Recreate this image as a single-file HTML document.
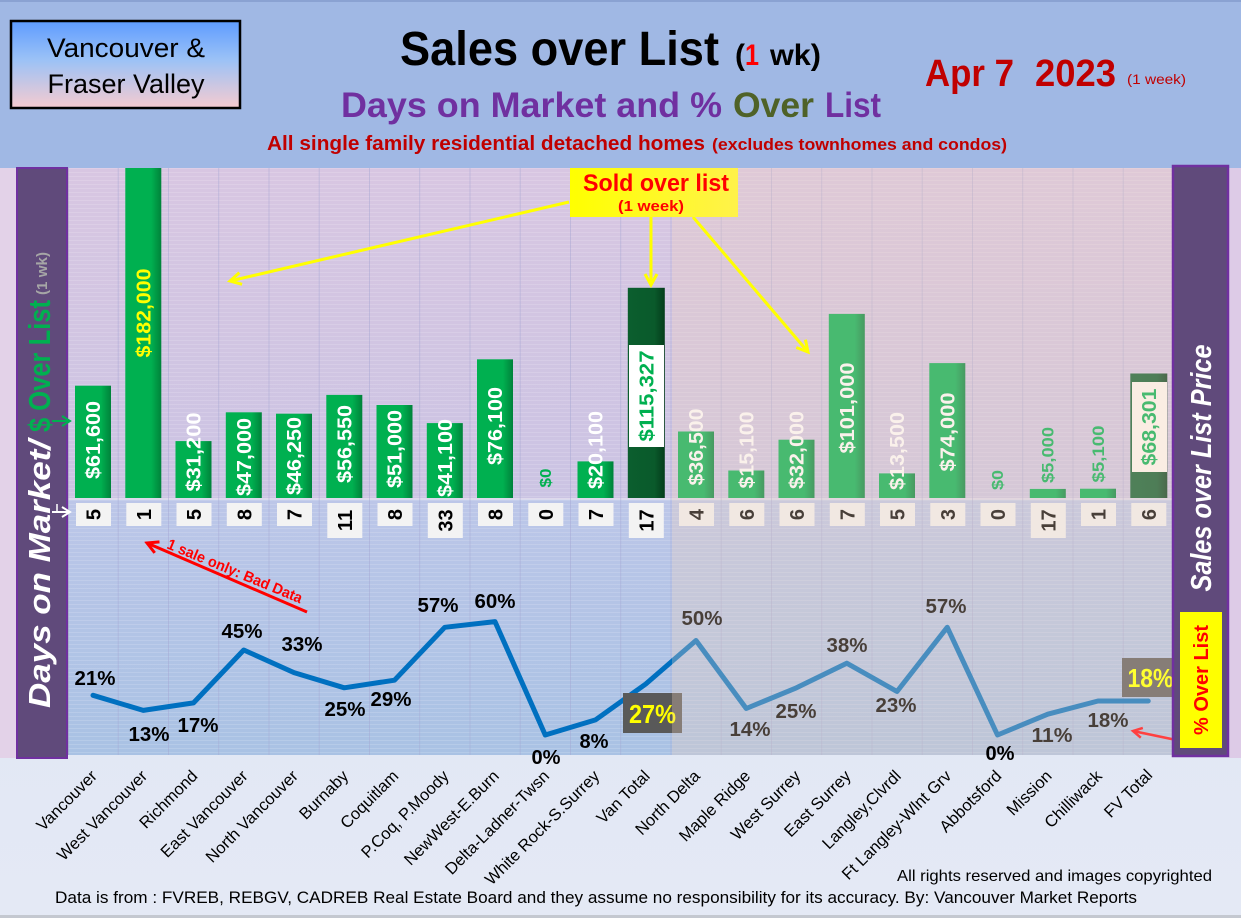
<!DOCTYPE html>
<html><head><meta charset="utf-8"><style>
html,body{margin:0;padding:0;background:#dfe6f4;}
svg{display:block;}
text{font-family:"Liberation Sans",sans-serif;}
</style></head><body>
<svg width="1241" height="918" viewBox="0 0 1241 918" xmlns="http://www.w3.org/2000/svg">
<defs>
<linearGradient id="gUp" x1="0" y1="0" x2="0" y2="1"><stop offset="0" stop-color="#d8c6e2"/><stop offset="1" stop-color="#cbc4e3"/></linearGradient>
<linearGradient id="gLow" x1="0" y1="0" x2="0" y2="1"><stop offset="0" stop-color="#bcc6e8"/><stop offset="1" stop-color="#a9c2e4"/></linearGradient>
<linearGradient id="gBar" x1="0" y1="0" x2="1" y2="0"><stop offset="0" stop-color="#00b050"/><stop offset="0.72" stop-color="#00b050"/><stop offset="1" stop-color="#00823a"/></linearGradient>
<linearGradient id="gDark" x1="0" y1="0" x2="1" y2="0"><stop offset="0" stop-color="#0b5e2e"/><stop offset="0.72" stop-color="#0a5a2b"/><stop offset="1" stop-color="#043c1b"/></linearGradient>
<linearGradient id="gLogo" x1="0" y1="0" x2="0" y2="1"><stop offset="0" stop-color="#5e9cff"/><stop offset="0.45" stop-color="#9cc2f6"/><stop offset="1" stop-color="#f6cbd0"/></linearGradient>
<linearGradient id="gSold" x1="0" y1="0" x2="1" y2="0"><stop offset="0" stop-color="#ffff00"/><stop offset="1" stop-color="#fff24a"/></linearGradient>
<linearGradient id="gFoot" x1="0" y1="0" x2="0" y2="1"><stop offset="0" stop-color="#dbe3f3"/><stop offset="1" stop-color="#e4e9f5"/></linearGradient>
<pattern id="stripes" width="4" height="4" patternUnits="userSpaceOnUse"><rect x="0" y="0" width="4" height="1" fill="#ffffff" opacity="0.14"/></pattern>
<marker id="ay" markerWidth="16" markerHeight="16" refX="13" refY="8" orient="auto" markerUnits="userSpaceOnUse"><path d="M2,2 L13,8 L2,14" fill="none" stroke="#ffff00" stroke-width="3"/></marker>
<marker id="ar" markerWidth="16" markerHeight="16" refX="13" refY="8" orient="auto" markerUnits="userSpaceOnUse"><path d="M2,2 L13,8 L2,14" fill="none" stroke="#ff0000" stroke-width="3"/></marker>
<marker id="ar2" markerWidth="14" markerHeight="14" refX="11" refY="7" orient="auto" markerUnits="userSpaceOnUse"><path d="M2,2 L11,7 L2,12" fill="none" stroke="#ff4040" stroke-width="2.5"/></marker>
<marker id="ag" markerWidth="12" markerHeight="12" refX="10" refY="6" orient="auto" markerUnits="userSpaceOnUse"><path d="M2,1 L10,6 L2,11" fill="none" stroke="#00b050" stroke-width="2"/></marker>
<marker id="aw" markerWidth="12" markerHeight="12" refX="10" refY="6" orient="auto" markerUnits="userSpaceOnUse"><path d="M2,1 L10,6 L2,11" fill="none" stroke="#ffffff" stroke-width="2"/></marker>
</defs>

<!-- backgrounds -->
<rect x="0" y="0" width="1241" height="918" fill="url(#gFoot)"/>
<rect x="0" y="0" width="1241" height="168" fill="#a0b8e4"/>
<rect x="0" y="0" width="1241" height="2" fill="#8aa2d2"/>
<rect x="0" y="168" width="17" height="590" fill="#e3d2e8"/>
<rect x="1229" y="168" width="12" height="590" fill="#ddcbe7"/>
<rect x="67" y="168" width="1106" height="331" fill="url(#gUp)"/>
<rect x="67" y="499" width="1106" height="256" fill="url(#gLow)"/>
<rect x="67" y="168" width="1106" height="587" fill="url(#stripes)"/>
<line x1="67" y1="499" x2="1172" y2="499" stroke="#e4e0f0" stroke-width="1.5"/>
<g stroke="#a4a6d2" stroke-width="1" opacity="0.45">
<line x1="118.2" y1="168" x2="118.2" y2="755"/><line x1="168.5" y1="168" x2="168.5" y2="755"/><line x1="218.7" y1="168" x2="218.7" y2="755"/><line x1="269" y1="168" x2="269" y2="755"/><line x1="319.2" y1="168" x2="319.2" y2="755"/><line x1="369.5" y1="168" x2="369.5" y2="755"/><line x1="419.7" y1="168" x2="419.7" y2="755"/><line x1="470" y1="168" x2="470" y2="755"/><line x1="520.2" y1="168" x2="520.2" y2="755"/><line x1="570.5" y1="168" x2="570.5" y2="755"/><line x1="620.7" y1="168" x2="620.7" y2="755"/><line x1="671" y1="168" x2="671" y2="755"/><line x1="721.2" y1="168" x2="721.2" y2="755"/><line x1="771.5" y1="168" x2="771.5" y2="755"/><line x1="821.7" y1="168" x2="821.7" y2="755"/><line x1="872" y1="168" x2="872" y2="755"/><line x1="922.2" y1="168" x2="922.2" y2="755"/><line x1="972.5" y1="168" x2="972.5" y2="755"/><line x1="1022.7" y1="168" x2="1022.7" y2="755"/><line x1="1073" y1="168" x2="1073" y2="755"/><line x1="1123.2" y1="168" x2="1123.2" y2="755"/>
</g>
<line x1="68" y1="168" x2="68" y2="755" stroke="#9a9ab4" stroke-width="1"/>

<!-- bars -->
<g>
<rect x="75" y="385.7" width="36" height="112.3" fill="url(#gBar)"/>
<rect x="125.3" y="168" width="36" height="330" fill="url(#gBar)"/>
<rect x="175.5" y="441.1" width="36" height="56.9" fill="url(#gBar)"/>
<rect x="225.8" y="412.3" width="36" height="85.7" fill="url(#gBar)"/>
<rect x="276" y="413.7" width="36" height="84.3" fill="url(#gBar)"/>
<rect x="326.3" y="394.9" width="36" height="103.1" fill="url(#gBar)"/>
<rect x="376.5" y="405" width="36" height="93" fill="url(#gBar)"/>
<rect x="426.8" y="423.1" width="36" height="74.9" fill="url(#gBar)"/>
<rect x="477" y="359.3" width="36" height="138.7" fill="url(#gBar)"/>
<rect x="577.5" y="461.4" width="36" height="36.6" fill="url(#gBar)"/>
<rect x="627.8" y="287.8" width="37" height="210.2" fill="url(#gDark)"/>
<rect x="678" y="431.5" width="36" height="66.5" fill="url(#gBar)"/>
<rect x="728.3" y="470.5" width="36" height="27.5" fill="url(#gBar)"/>
<rect x="778.5" y="439.7" width="36" height="58.3" fill="url(#gBar)"/>
<rect x="828.8" y="313.9" width="36" height="184.1" fill="url(#gBar)"/>
<rect x="879" y="473.4" width="36" height="24.6" fill="url(#gBar)"/>
<rect x="929.3" y="363.1" width="36" height="134.9" fill="url(#gBar)"/>
<rect x="1029.8" y="488.9" width="36" height="9.1" fill="url(#gBar)"/>
<rect x="1080" y="488.7" width="36" height="9.3" fill="url(#gBar)"/>
<rect x="1130.3" y="373.5" width="37" height="124.5" fill="url(#gDark)"/>
</g>
<rect x="629" y="345" width="35" height="102" fill="#ffffff"/>
<rect x="1132" y="382" width="35" height="90" fill="#fffaf4"/>

<!-- bar labels -->
<g font-weight="bold" font-size="20" fill="#ffffff" text-anchor="middle">
<text transform="translate(100,440) rotate(-90)" textLength="78" lengthAdjust="spacingAndGlyphs">$61,600</text>
<text transform="translate(150.3,313) rotate(-90)" textLength="89" lengthAdjust="spacingAndGlyphs" fill="#ffff00">$182,000</text>
<text transform="translate(200.5,452) rotate(-90)" textLength="79" lengthAdjust="spacingAndGlyphs">$31,200</text>
<text transform="translate(250.8,457) rotate(-90)" textLength="78" lengthAdjust="spacingAndGlyphs">$47,000</text>
<text transform="translate(301,456) rotate(-90)" textLength="78" lengthAdjust="spacingAndGlyphs">$46,250</text>
<text transform="translate(351.3,444) rotate(-90)" textLength="78" lengthAdjust="spacingAndGlyphs">$56,550</text>
<text transform="translate(401.5,449) rotate(-90)" textLength="78" lengthAdjust="spacingAndGlyphs">$51,000</text>
<text transform="translate(451.8,458) rotate(-90)" textLength="78" lengthAdjust="spacingAndGlyphs">$41,100</text>
<text transform="translate(502,426) rotate(-90)" textLength="78" lengthAdjust="spacingAndGlyphs">$76,100</text>
<text transform="translate(551,478) rotate(-90)" textLength="19" lengthAdjust="spacingAndGlyphs" font-size="16" fill="#00b050">$0</text>
<text transform="translate(602.5,450) rotate(-90)" textLength="78" lengthAdjust="spacingAndGlyphs">$20,100</text>
<text transform="translate(653.5,396) rotate(-90)" textLength="91" lengthAdjust="spacingAndGlyphs" fill="#00b050">$115,327</text>
<text transform="translate(703,447) rotate(-90)" textLength="77" lengthAdjust="spacingAndGlyphs">$36,500</text>
<text transform="translate(753.3,450) rotate(-90)" textLength="77" lengthAdjust="spacingAndGlyphs">$15,100</text>
<text transform="translate(803.5,450) rotate(-90)" textLength="78" lengthAdjust="spacingAndGlyphs">$32,000</text>
<text transform="translate(853.8,408) rotate(-90)" textLength="91" lengthAdjust="spacingAndGlyphs">$101,000</text>
<text transform="translate(904,451) rotate(-90)" textLength="78" lengthAdjust="spacingAndGlyphs">$13,500</text>
<text transform="translate(954.3,432) rotate(-90)" textLength="79" lengthAdjust="spacingAndGlyphs">$74,000</text>
<text transform="translate(1003,480) rotate(-90)" textLength="20" lengthAdjust="spacingAndGlyphs" font-size="16" fill="#00b050">$0</text>
<text transform="translate(1053.5,455) rotate(-90)" textLength="56" lengthAdjust="spacingAndGlyphs" font-size="17" fill="#00b050">$5,000</text>
<text transform="translate(1103.8,454) rotate(-90)" textLength="57" lengthAdjust="spacingAndGlyphs" font-size="17" fill="#00b050">$5,100</text>
<text transform="translate(1155.8,427) rotate(-90)" textLength="77" lengthAdjust="spacingAndGlyphs" fill="#00b050">$68,301</text>
</g>

<!-- days on market boxes -->
<g fill="#f3f3f3">
<rect x="76" y="503" width="35" height="23"/><rect x="126.3" y="503" width="35" height="23"/><rect x="176.5" y="503" width="35" height="23"/><rect x="226.8" y="503" width="35" height="23"/><rect x="277" y="503" width="35" height="23"/><rect x="327.3" y="503" width="35" height="35"/><rect x="377.5" y="503" width="35" height="23"/><rect x="427.8" y="503" width="35" height="35"/><rect x="478" y="503" width="35" height="23"/><rect x="528.3" y="503" width="35" height="23"/><rect x="578.5" y="503" width="35" height="23"/><rect x="628.8" y="503" width="35" height="35"/><rect x="679" y="503" width="35" height="23"/><rect x="729.3" y="503" width="35" height="23"/><rect x="779.5" y="503" width="35" height="23"/><rect x="829.8" y="503" width="35" height="23"/><rect x="880" y="503" width="35" height="23"/><rect x="930.3" y="503" width="35" height="23"/><rect x="980.5" y="503" width="35" height="23"/><rect x="1030.8" y="503" width="35" height="35"/><rect x="1081" y="503" width="35" height="23"/><rect x="1131.3" y="503" width="35" height="23"/>
</g>
<g font-weight="bold" font-size="20" fill="#000" text-anchor="middle">
<text transform="translate(100.5,514.5) rotate(-90)">5</text>
<text transform="translate(150.8,514.5) rotate(-90)">1</text>
<text transform="translate(201,514.5) rotate(-90)">5</text>
<text transform="translate(251.3,514.5) rotate(-90)">8</text>
<text transform="translate(301.5,514.5) rotate(-90)">7</text>
<text transform="translate(351.8,520.5) rotate(-90)">11</text>
<text transform="translate(402,514.5) rotate(-90)">8</text>
<text transform="translate(452.3,520.5) rotate(-90)">33</text>
<text transform="translate(502.5,514.5) rotate(-90)">8</text>
<text transform="translate(552.8,514.5) rotate(-90)">0</text>
<text transform="translate(603,514.5) rotate(-90)">7</text>
<text transform="translate(653.3,520.5) rotate(-90)">17</text>
<text transform="translate(703.5,514.5) rotate(-90)">4</text>
<text transform="translate(753.8,514.5) rotate(-90)">6</text>
<text transform="translate(804,514.5) rotate(-90)">6</text>
<text transform="translate(854.3,514.5) rotate(-90)">7</text>
<text transform="translate(904.5,514.5) rotate(-90)">5</text>
<text transform="translate(954.8,514.5) rotate(-90)">3</text>
<text transform="translate(1005,514.5) rotate(-90)">0</text>
<text transform="translate(1055.3,520.5) rotate(-90)">17</text>
<text transform="translate(1105.5,514.5) rotate(-90)">1</text>
<text transform="translate(1155.8,514.5) rotate(-90)">6</text>
</g>

<!-- % over list line -->
<polyline fill="none" stroke="#0070c0" stroke-width="5" stroke-linejoin="round" stroke-linecap="round"
points="93,695.3 143.25,710.4 193.5,702.9 243.75,650 294,672.6 344.25,687.8 394.5,680.2 444.75,627.3 495,621.6 545.25,735 595.5,719.9 645.75,684 696,640.5 746.25,708.5 796.5,687.8 846.75,663.2 897,691.5 947.25,627.3 997.5,735 1047.75,714.2 1098,701 1148.25,701"/>

<rect x="623" y="693" width="59" height="40" fill="#595959"/>
<text x="652.5" y="723" font-size="26" font-weight="bold" fill="#ffff00" text-anchor="middle" textLength="47" lengthAdjust="spacingAndGlyphs">27%</text>
<rect x="1122" y="658" width="51" height="39" fill="#595959"/>

<g font-weight="bold" font-size="20" fill="#000" text-anchor="middle">
<text x="95" y="685" textLength="41" lengthAdjust="spacingAndGlyphs">21%</text>
<text x="149" y="741" textLength="41" lengthAdjust="spacingAndGlyphs">13%</text>
<text x="198" y="732" textLength="41" lengthAdjust="spacingAndGlyphs">17%</text>
<text x="242" y="638" textLength="41" lengthAdjust="spacingAndGlyphs">45%</text>
<text x="302" y="651" textLength="41" lengthAdjust="spacingAndGlyphs">33%</text>
<text x="345" y="716" textLength="41" lengthAdjust="spacingAndGlyphs">25%</text>
<text x="391" y="706" textLength="41" lengthAdjust="spacingAndGlyphs">29%</text>
<text x="438" y="612" textLength="41" lengthAdjust="spacingAndGlyphs">57%</text>
<text x="495" y="608" textLength="41" lengthAdjust="spacingAndGlyphs">60%</text>
<text x="546" y="764" textLength="29" lengthAdjust="spacingAndGlyphs">0%</text>
<text x="594" y="748" textLength="29" lengthAdjust="spacingAndGlyphs">8%</text>
<text x="702" y="625" textLength="41" lengthAdjust="spacingAndGlyphs">50%</text>
<text x="750" y="736" textLength="41" lengthAdjust="spacingAndGlyphs">14%</text>
<text x="796" y="718" textLength="41" lengthAdjust="spacingAndGlyphs">25%</text>
<text x="847" y="652" textLength="41" lengthAdjust="spacingAndGlyphs">38%</text>
<text x="896" y="712" textLength="41" lengthAdjust="spacingAndGlyphs">23%</text>
<text x="946" y="613" textLength="41" lengthAdjust="spacingAndGlyphs">57%</text>
<text x="1052" y="742" textLength="41" lengthAdjust="spacingAndGlyphs">11%</text>
<text x="1108" y="727" textLength="41" lengthAdjust="spacingAndGlyphs">18%</text>
</g>

<!-- overlay on Fraser Valley half -->
<rect x="672" y="168" width="500" height="587" fill="rgb(240,210,190)" opacity="0.3"/>

<text x="1150.5" y="687" font-size="26" font-weight="bold" fill="#ffff30" text-anchor="middle" textLength="46" lengthAdjust="spacingAndGlyphs">18%</text>
<text x="1000" y="760" font-size="20" font-weight="bold" fill="#000" text-anchor="middle" textLength="29" lengthAdjust="spacingAndGlyphs">0%</text>

<!-- annotations -->
<line x1="569" y1="202" x2="230" y2="281" stroke="#ffff00" stroke-width="3" marker-end="url(#ay)"/>
<line x1="651" y1="217" x2="651" y2="285" stroke="#ffff00" stroke-width="3" marker-end="url(#ay)"/>
<line x1="693" y1="217" x2="808" y2="352" stroke="#ffff00" stroke-width="3" marker-end="url(#ay)"/>
<rect x="570" y="168" width="168" height="49" fill="url(#gSold)"/>
<text x="583" y="191" font-size="24" font-weight="bold" fill="#ff0000" textLength="146" lengthAdjust="spacingAndGlyphs">Sold over list</text>
<text x="618" y="211" font-size="15" font-weight="bold" fill="#ff0000" textLength="66" lengthAdjust="spacingAndGlyphs">(1 week)</text>

<line x1="307" y1="612" x2="147" y2="543" stroke="#ff0000" stroke-width="3" marker-end="url(#ar)"/>
<text transform="translate(166,548) rotate(22.5)" font-size="15" font-weight="bold" fill="#ff0000" textLength="145" lengthAdjust="spacingAndGlyphs">1 sale only: Bad Data</text>
<line x1="1181" y1="741" x2="1133" y2="731" stroke="#ff4040" stroke-width="2.5" marker-end="url(#ar2)"/>

<!-- side panels -->
<rect x="17" y="168" width="50" height="590" fill="#604a7b" stroke="#7030a0" stroke-width="2"/>
<text transform="translate(50,708) rotate(-90)" font-size="31" font-weight="bold" font-style="italic" fill="#ffffff" textLength="268" lengthAdjust="spacingAndGlyphs">Days on Market/</text>
<text transform="translate(50,432) rotate(-90)" font-size="31" font-weight="bold" fill="#00b050" textLength="132" lengthAdjust="spacingAndGlyphs">$ Over List</text>
<text transform="translate(47,295) rotate(-90)" font-size="15" font-weight="bold" fill="#a6a6a6" textLength="43" lengthAdjust="spacingAndGlyphs">(1 wk)</text>
<line x1="52" y1="421" x2="70" y2="421" stroke="#00b050" stroke-width="2" marker-end="url(#ag)"/>
<line x1="52" y1="512" x2="70" y2="512" stroke="#ffffff" stroke-width="2" marker-end="url(#aw)"/>
<line x1="57" y1="504" x2="57" y2="512" stroke="#ffffff" stroke-width="1.5"/>

<rect x="1173" y="166" width="55" height="590" fill="#604a7b" stroke="#7030a0" stroke-width="2.5"/>
<text transform="translate(1211,468) rotate(-90)" font-size="29" font-weight="bold" font-style="italic" fill="#ffffff" text-anchor="middle" textLength="247" lengthAdjust="spacingAndGlyphs">Sales over List Price</text>
<rect x="1180" y="612" width="42" height="136" fill="#ffff00"/>
<text transform="translate(1208,680) rotate(-90)" font-size="20" font-weight="bold" fill="#ff0000" text-anchor="middle" textLength="110" lengthAdjust="spacingAndGlyphs">% Over List</text>

<!-- x axis labels -->
<g font-size="16.5" fill="#000" text-anchor="end">
<text transform="translate(98,777) rotate(-45)">Vancouver</text>
<text transform="translate(148.3,777) rotate(-45)">West Vancouver</text>
<text transform="translate(198.5,777) rotate(-45)">Richmond</text>
<text transform="translate(248.8,777) rotate(-45)">East Vancouver</text>
<text transform="translate(299,777) rotate(-45)">North Vancouver</text>
<text transform="translate(349.3,777) rotate(-45)">Burnaby</text>
<text transform="translate(399.5,777) rotate(-45)">Coquitlam</text>
<text transform="translate(449.8,777) rotate(-45)">P.Coq, P.Moody</text>
<text transform="translate(500,777) rotate(-45)">NewWest-E.Burn</text>
<text transform="translate(550.3,777) rotate(-45)">Delta-Ladner-Twsn</text>
<text transform="translate(600.5,777) rotate(-45)">White Rock-S.Surrey</text>
<text transform="translate(650.8,777) rotate(-45)">Van Total</text>
<text transform="translate(701,777) rotate(-45)">North Delta</text>
<text transform="translate(751.3,777) rotate(-45)">Maple Ridge</text>
<text transform="translate(801.5,777) rotate(-45)">West Surrey</text>
<text transform="translate(851.8,777) rotate(-45)">East Surrey</text>
<text transform="translate(902,777) rotate(-45)">Langley,Clvrdl</text>
<text transform="translate(952.3,777) rotate(-45)">Ft Langley-Wlnt Grv</text>
<text transform="translate(1002.5,777) rotate(-45)">Abbotsford</text>
<text transform="translate(1052.8,777) rotate(-45)">Mission</text>
<text transform="translate(1103,777) rotate(-45)">Chilliwack</text>
<text transform="translate(1153.3,776) rotate(-45)">FV Total</text>
</g>

<!-- footer -->
<text x="897" y="881" font-size="16" fill="#000" textLength="315" lengthAdjust="spacingAndGlyphs">All rights reserved and  images copyrighted</text>
<text x="55" y="903" font-size="16.5" fill="#000" textLength="1082" lengthAdjust="spacingAndGlyphs">Data is from : FVREB, REBGV, CADREB Real Estate Board and they assume no responsibility for its accuracy. By: Vancouver Market Reports</text>
<rect x="0" y="915" width="1241" height="3" fill="#c4c8d0"/>

<!-- header -->
<rect x="11" y="21" width="229" height="87" fill="url(#gLogo)" stroke="#000" stroke-width="2.5"/>
<text x="126" y="57" font-size="27" fill="#000" text-anchor="middle" textLength="158" lengthAdjust="spacingAndGlyphs">Vancouver &amp;</text>
<text x="126" y="93" font-size="27" fill="#000" text-anchor="middle" textLength="157" lengthAdjust="spacingAndGlyphs">Fraser Valley</text>

<text x="400" y="65" font-size="48" font-weight="bold" fill="#000" textLength="319" lengthAdjust="spacingAndGlyphs">Sales over List</text>
<text x="735" y="65" font-size="30" font-weight="bold" fill="#000">(</text>
<text x="745" y="65" font-size="30" font-weight="bold" fill="#ff0000" textLength="14" lengthAdjust="spacingAndGlyphs">1</text>
<text x="770" y="65" font-size="30" font-weight="bold" fill="#000" textLength="51" lengthAdjust="spacingAndGlyphs">wk)</text>

<text x="341" y="117" font-size="35" font-weight="bold" fill="#7030a0" textLength="381" lengthAdjust="spacingAndGlyphs">Days on Market and %</text>
<text x="733" y="117" font-size="35" font-weight="bold" fill="#4f6228" textLength="81" lengthAdjust="spacingAndGlyphs">Over</text>
<text x="825" y="117" font-size="35" font-weight="bold" fill="#7030a0" textLength="56" lengthAdjust="spacingAndGlyphs">List</text>

<text x="267" y="150" font-size="20" font-weight="bold" fill="#c00000" textLength="438" lengthAdjust="spacingAndGlyphs">All single family residential detached homes</text>
<text x="712" y="150" font-size="17" font-weight="bold" fill="#c00000" textLength="295" lengthAdjust="spacingAndGlyphs">(excludes townhomes and condos)</text>

<text x="925" y="86" font-size="38" font-weight="bold" fill="#c00000" textLength="89" lengthAdjust="spacingAndGlyphs">Apr 7</text>
<text x="1035" y="86" font-size="38" font-weight="bold" fill="#c00000" textLength="81" lengthAdjust="spacingAndGlyphs">2023</text>
<text x="1127" y="84" font-size="14" fill="#c00000" textLength="59" lengthAdjust="spacingAndGlyphs">(1 week)</text>
</svg>
</body></html>
